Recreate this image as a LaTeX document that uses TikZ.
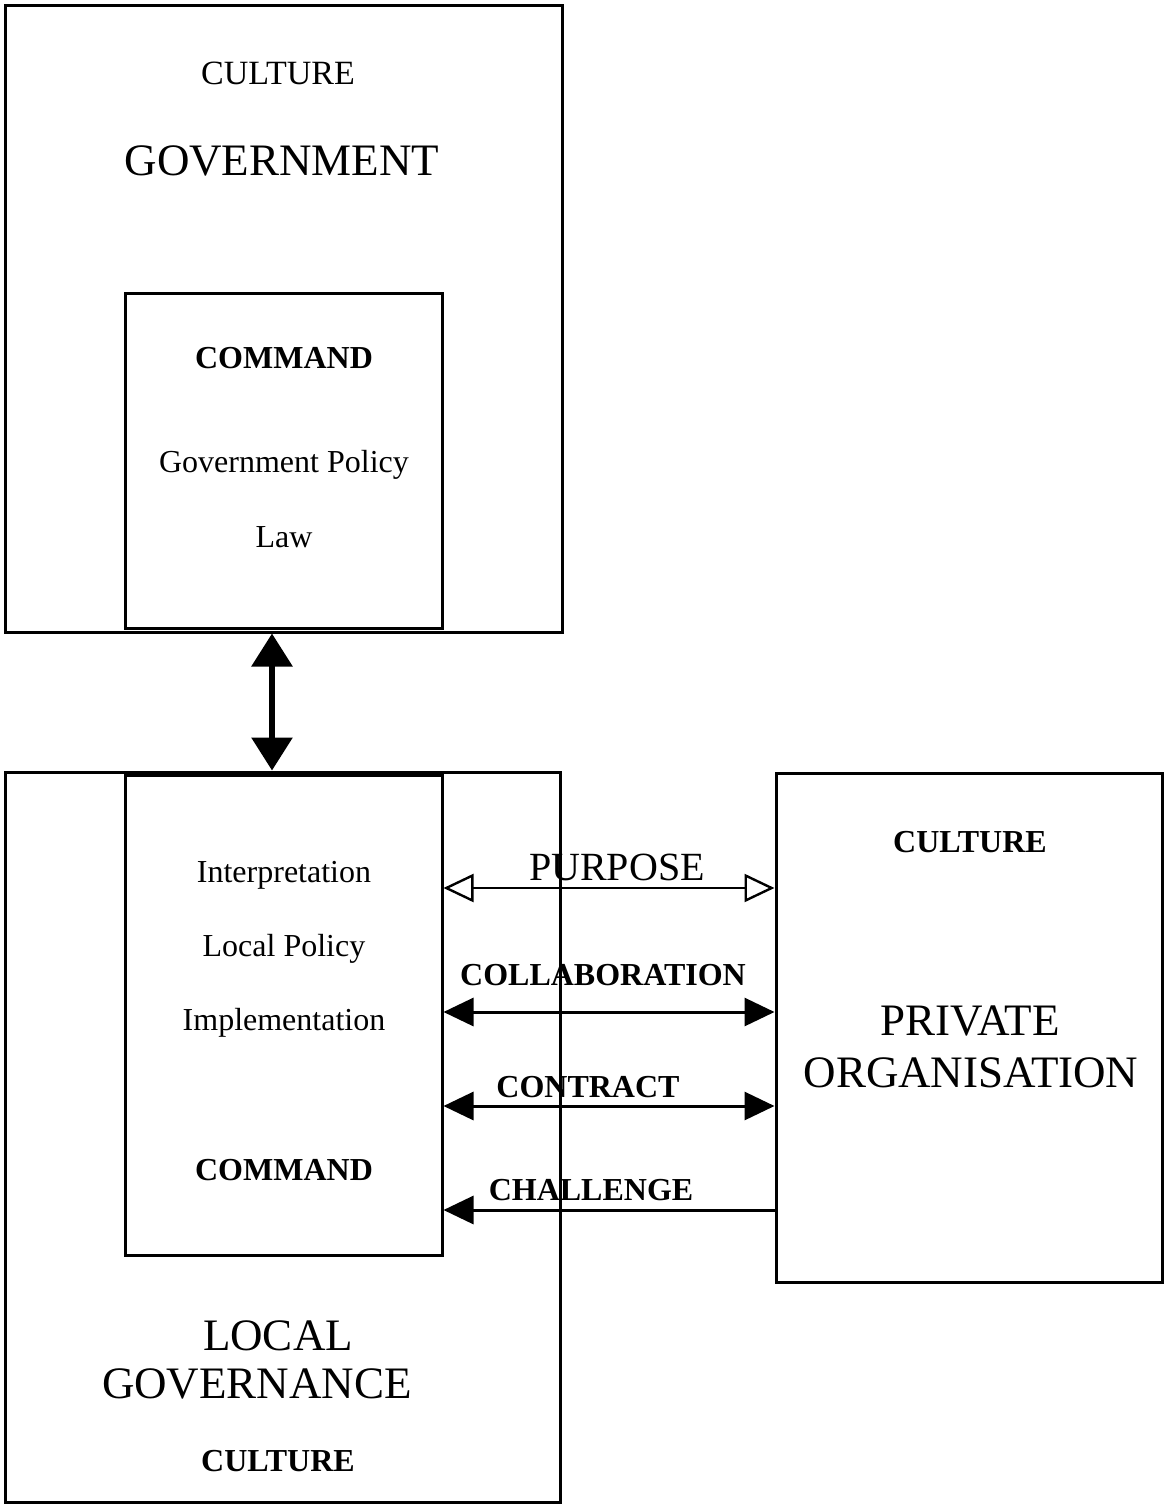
\documentclass[tikz,border=0pt]{standalone}
\usepackage{fontspec}
\setmainfont{Liberation Serif}
\usetikzlibrary{arrows.meta}
\begin{document}
\begin{tikzpicture}[x=0.5pt,y=-0.5pt,
  box/.style={draw, line width=1.5pt, inner sep=0pt},
  body/.style={font=\fontsize{16}{19}\selectfont},
  lab/.style={font=\fontsize{16}{19}\selectfont\bfseries},
  eng/.style={font=\fontsize{17}{20}\selectfont},
  title/.style={font=\fontsize{22.5}{26}\selectfont, align=center},
  hbi/.style={line width=1.5pt, {Triangle[length=15pt,width=14pt]}-{Triangle[length=15pt,width=14pt]}},
  hopen/.style={line width=1.2pt, {Triangle[open,length=15pt,width=14pt]}-{Triangle[open,length=15pt,width=14pt]}},
  hleft/.style={line width=1.5pt, {Triangle[length=15pt,width=14pt]}-},
  vbi/.style={line width=3pt, {Triangle[length=16.5pt,width=20pt]}-{Triangle[length=16.5pt,width=20pt]}}
]
\useasboundingbox (0,0) rectangle (1164,1505);
\fill[white] (0,0) rectangle (1164,1505);

% Government
\node[box, minimum width=278.5pt, minimum height=313.5pt] (gov) at (283.5,318.5) {};
\node[box, minimum width=158.5pt, minimum height=167.5pt] (cmd1) at (283.5,460.5) {};
\node[eng] (cult1) at (278,73) {CULTURE};
\node[title] (govt) at (282,161) {GOVERNMENT};
\node[lab] (command1) at (284,358) {COMMAND};
\node[body] (gp) at (284,465) {Government Policy};
\node[body] (law) at (284,537) {Law};

% Local governance inner
\node[box, minimum width=158.5pt, minimum height=240pt] (cmd2) at (283.5,1015) {};
\node[body] (interp) at (284,875) {Interpretation};
\node[body] (lp) at (284,949) {Local Policy};
\node[body] (impl) at (284,1023) {Implementation};
\node[lab] (command2) at (284,1170) {COMMAND};
\node[title] (local) at (278,1336) {LOCAL};
\node[title] (governance) at (257,1384) {GOVERNANCE};
\node[lab] (cult2) at (278,1461) {CULTURE};

% Private organisation
\node[box, minimum width=193pt, minimum height=254.5pt] (priv) at (969,1027.5) {};
\node[lab] (cult3) at (970,842) {CULTURE};
\node[title] (private) at (970,1021) {PRIVATE};
\node[title] (organisation) at (971,1073) {ORGANISATION};

% Relation labels
\node[font=\fontsize{20}{24}\selectfont] (purpose) at (617,867) {PURPOSE};
\node[lab] (collab) at (603,975) {COLLABORATION};
\node[lab] (contract) at (588,1087) {CONTRACT};
\node[lab] (challenge) at (591,1190) {CHALLENGE};

% Horizontal arrows
\draw[hopen] (cmd2.east |- 0,888) -- (priv.west |- 0,888);
\draw[hbi] (cmd2.east |- 0,1012) -- (priv.west |- 0,1012);
\draw[hbi] (cmd2.east |- 0,1106) -- (priv.west |- 0,1106);
\draw[hleft] (cmd2.east |- 0,1210) -- (priv.west |- 0,1210);

% Local governance outer box (drawn over arrows)
\node[box, minimum width=277.5pt, minimum height=365pt] (lg) at (282.5,1137) {};

% Vertical arrow
\draw[vbi] ([xshift=-5.75pt]gov.south) -- ([xshift=-5.25pt]lg.north);
\end{tikzpicture}
\end{document}
